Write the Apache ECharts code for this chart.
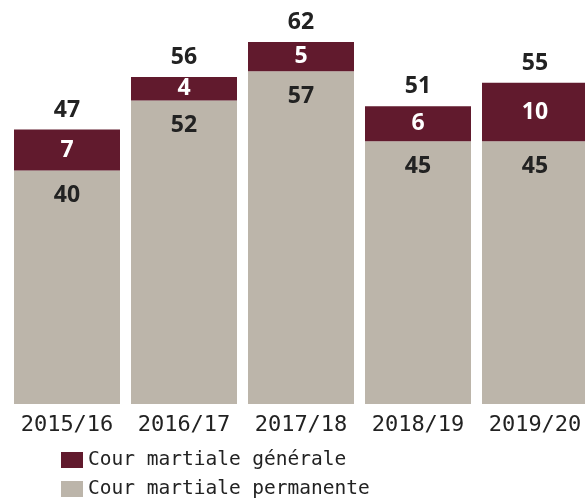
<!DOCTYPE html>
<html>
<head>
<meta charset="utf-8">
<script src="https://cdn.jsdelivr.net/npm/echarts@6/dist/echarts.min.js"></script>
<style>
  html, body { margin: 0; padding: 0; background: #fff; }
  #chart { width: 585px; height: 500px; }
</style>
</head>
<body>
<div id="chart"></div>
<script>
// Exercices
const years = ['2015/16', '2016/17', '2017/18', '2018/19', '2019/20'];
// Nombre de procès par type de cour martiale
const permanente = [40, 52, 57, 45, 45];
const generale = [7, 4, 5, 6, 10];
const totals = permanente.map((v, i) => v + generale[i]);
const legendNames = ['Cour martiale générale', 'Cour martiale permanente'];

const MAROON = '#611a2d';
const GREY = '#bcb5aa';
const INK = '#222222';
const labelFont = '"Open Sans", "Noto Sans", sans-serif';
const monoFont = '"DejaVu Sans Mono", monospace';

const legendBase = {
  orient: 'vertical',
  left: 56,
  itemWidth: 22,
  itemHeight: 16,
  icon: 'rect',
  textStyle: { color: INK, fontFamily: monoFont, fontSize: 19.5 }
};

const chart = echarts.init(document.getElementById('chart'));
chart.setOption({
  animation: false,
  grid: { left: 8.5, width: 585, top: 42, bottom: 96, containLabel: false, outerBoundsMode: 'none' },
  xAxis: {
    type: 'category',
    data: years,
    axisLine: { show: false },
    axisTick: { show: false },
    axisLabel: { interval: 0, color: INK, fontFamily: monoFont, fontSize: 22, margin: 10 }
  },
  yAxis: { type: 'value', min: 0, max: 62, show: false },
  legend: [
    Object.assign({}, legendBase, { top: 445, data: [legendNames[0]] }),
    Object.assign({}, legendBase, { top: 474, data: [legendNames[1]] })
  ],
  series: [
    {
      name: legendNames[1],
      type: 'bar',
      stack: 'total',
      barWidth: 106,
      data: permanente,
      itemStyle: { color: GREY },
      label: {
        show: true,
        position: 'insideTop',
        distance: 14,
        color: INK,
        fontFamily: labelFont,
        fontWeight: 'bold',
        fontSize: 23
      }
    },
    {
      name: legendNames[0],
      type: 'bar',
      stack: 'total',
      barWidth: 106,
      data: generale,
      itemStyle: { color: MAROON },
      label: {
        show: true,
        position: 'inside',
        color: '#ffffff',
        fontFamily: labelFont,
        fontWeight: 'bold',
        fontSize: 23
      }
    },
    {
      // zero-height cap carrying the total of each stack
      name: 'Total',
      type: 'bar',
      stack: 'total',
      barWidth: 106,
      data: totals.map(() => 0),
      itemStyle: { color: 'transparent' },
      label: {
        show: true,
        position: 'top',
        distance: 8,
        formatter: (p) => String(totals[p.dataIndex]),
        color: INK,
        fontFamily: labelFont,
        fontWeight: 'bold',
        fontSize: 23
      },
      tooltip: { show: false }
    }
  ]
});
</script>
</body>
</html>
